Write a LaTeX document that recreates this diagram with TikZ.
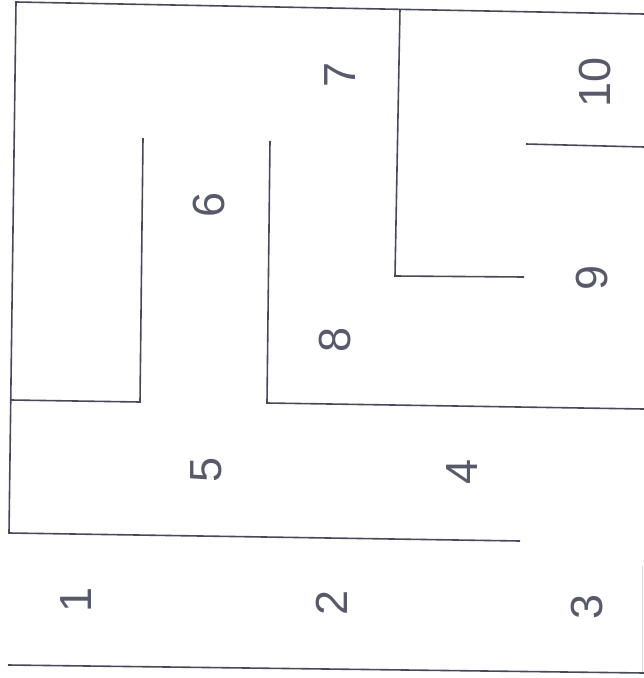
\documentclass[tikz,border=0pt]{standalone}
\usepackage{fontspec}
\setmainfont{Liberation Sans}
\definecolor{ink}{RGB}{72,74,90}
\definecolor{txt}{RGB}{88,90,106}
\definecolor{edge}{RGB}{215,215,220}
\begin{document}
\begin{tikzpicture}[x=1pt,y=-1pt,
  wall/.style={draw=ink,line width=1.6pt,line join=miter},
  faint/.style={draw=edge,line width=1pt},
  num/.style={rotate=90,text=txt,font=\fontsize{45}{45}\selectfont,inner sep=0pt}]
\useasboundingbox[fill=white] (0,0) rectangle (644,678);
% walls
\draw[wall] (644,14) -- (16,2) -- (9,533) -- (520,541);
\draw[wall] (143,138) -- (140,402) -- (11,400);
\draw[wall] (270,141) -- (267,403) -- (644,409);
\draw[wall] (400,9) -- (395,276) -- (524,277);
\draw[wall] (526,144) -- (644,147);
\draw[wall] (8,665) -- (644,673);
\draw[faint] (642,566) -- (642,672);
% room numbers
\node[num] (n1) at (76,600) {1};
\node[num] (n2) at (332,603) {2};
\node[num] (n3) at (587,607) {3};
\node[num] (n4) at (462,472) {4};
\node[num] (n5) at (206,470) {5};
\node[num] (n6) at (209,205) {6};
\node[num] (n7) at (340,75) {7};
\node[num] (n8) at (335,340) {8};
\node[num] (n9) at (592,278) {9};
\node[num] (n10) at (595,82) {10};
\end{tikzpicture}
\end{document}
